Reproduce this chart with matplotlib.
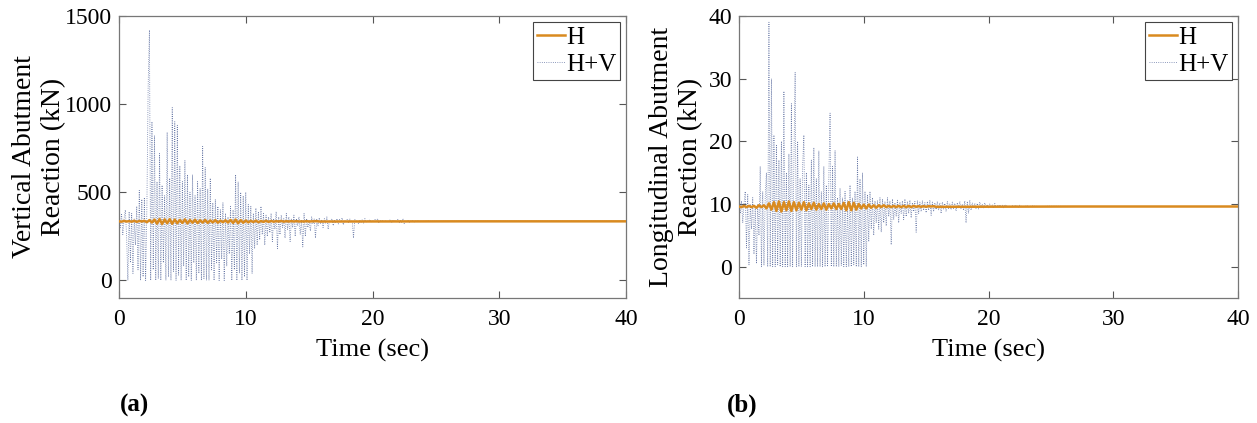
import matplotlib.pyplot as plt
import numpy as np

plt.rcParams['font.family'] = ['Liberation Serif', 'DejaVu Serif']

dt = 0.1     # sample step of the H+V records (s)
dt_h = 0.2   # sample step of the H records (s)

# (a) vertical abutment reaction, kN
hv_vert = [
    340, 300, 380, 260, 350, 400, 250, 0, 390, 100,
    380, 40, 350, 200, 420, 60, 510, 0, 460, 20,
    470, 0, 420, 1100, 1420, 0, 900, 60, 820, 0,
    560, 10, 720, 0, 540, 100, 480, 0, 840, 20,
    580, 0, 980, 50, 900, 0, 880, 30, 650, 0,
    560, 80, 680, 0, 600, 20, 500, 0, 600, 100,
    480, 0, 560, 40, 520, 0, 760, 10, 640, 0,
    520, 0, 580, 60, 440, 0, 460, 100, 420, 0,
    400, 120, 440, 0, 380, 80, 360, 150, 420, 0,
    400, 60, 600, 0, 560, 40, 500, 0, 480, 20,
    500, 0, 430, 150, 420, 40, 380, 180, 410, 200,
    390, 230, 420, 260, 380, 200, 370, 250, 360, 270,
    380, 220, 350, 290, 390, 180, 360, 260, 370, 300,
    350, 240, 380, 290, 360, 220, 350, 300, 370, 250,
    350, 310, 360, 260, 345, 190, 380, 250, 350, 300,
    340, 280, 360, 320, 350, 240, 345, 310, 355, 320,
    345, 300, 350, 325, 360, 290, 340, 330, 350, 310,
    340, 325, 350, 320, 345, 330, 355, 315, 340, 330,
    345, 325, 350, 330, 340, 240, 345, 335, 340, 320,
    340, 330, 345, 325, 350, 330, 340, 335, 345, 330,
    340, 330, 345, 335, 350, 325, 340, 335, 338, 332,
    340, 330, 338, 333, 345, 328, 340, 335, 338, 333,
    345, 325, 340, 330, 350, 322, 338, 333, 340, 330,
    338, 333, 340, 332, 337, 334, 338, 333, 336, 334,
    337, 334, 336, 335, 337, 334, 336, 335, 336, 335,
]
h_vert = [
    335, 333, 337, 334, 336, 333, 338, 332, 337, 334,
    338, 330, 342, 328, 345, 322, 348, 320, 346, 324,
    347, 321, 345, 324, 343, 326, 346, 323, 342, 327,
    344, 325, 341, 328, 343, 326, 340, 329, 342, 327,
    339, 330, 341, 328, 343, 326, 345, 324, 342, 327,
    340, 329, 338, 331, 339, 330, 337, 332, 338, 332,
    337, 333, 336, 334, 337, 333, 336, 334, 336, 334,
    336, 334, 335, 334, 336, 334, 335, 335, 336, 334,
]

# (b) longitudinal abutment reaction, kN
hv_long = [
    9.8, 8.5, 10.5, 7, 10, 12, 3, 11.5, 0.3, 10,
    6, 11, 2, 9.5, 0.5, 10, 5, 16, 0, 12,
    0.2, 11, 15, 0, 39, 0, 30, 0, 21, 0,
    19.5, 0.3, 17, 0, 20, 0, 28, 0, 15, 0,
    18, 0, 26, 0, 17, 31, 0, 20, 0, 14,
    0, 16, 21, 0, 15, 0, 13, 0, 17, 0,
    19, 0, 14, 0, 18.5, 0, 12, 0, 16, 0,
    13, 0, 14, 24.5, 0, 16, 0, 18.5, 0, 11,
    0, 12.5, 0.2, 11, 0, 12, 0, 10.5, 0, 13,
    0, 11, 0.3, 12, 0, 17.5, 0, 14, 0, 15,
    0.3, 12, 0, 11.5, 4, 12, 6, 11, 5, 10.5,
    7, 10.5, 6, 11, 5.5, 10.8, 7, 10.4, 6.5, 11,
    8, 10.5, 3.5, 10.8, 7.5, 10.2, 8, 10.6, 7, 10.3,
    8.5, 10.5, 7.5, 10.8, 8, 10.4, 8.5, 10.6, 7.8, 10.2,
    8.8, 10.4, 5.5, 10.5, 8.5, 10.3, 8.8, 10.5, 9, 10.2,
    8.6, 10.4, 9, 10.6, 8.2, 10.3, 8.8, 10.2, 9.1, 10.4,
    9, 10.2, 8.5, 10.3, 9.2, 10.1, 8.8, 10.4, 9.3, 10,
    9.1, 10.3, 9.3, 10.1, 8.9, 10.2, 9.4, 10.4, 9.2, 10,
    9, 10.5, 7, 10.4, 8.5, 10.6, 9, 10.2, 9.3, 10.1,
    9.3, 10.1, 9.2, 10.3, 9.4, 10, 9.3, 10.2, 9.5, 9.9,
    9.4, 10, 9.5, 9.9, 9.3, 10.1, 9.5, 9.8, 9.6, 9.9,
    9.5, 9.8, 9.4, 9.9, 9.6, 9.8, 9.5, 9.7, 9.6, 9.8,
    9.5, 9.8, 9.6, 9.7, 9.5, 9.8, 9.6, 9.7, 9.6, 9.7,
    9.6, 9.7, 9.5, 9.7, 9.6, 9.7, 9.6, 9.65, 9.6, 9.65,
    9.6, 9.65, 9.6, 9.65, 9.6, 9.65, 9.6, 9.65, 9.6, 9.65,
]
h_long = [
    9.6, 9.5, 9.7, 9.5, 9.7, 9.5, 9.7, 9.4, 9.8, 9.5,
    9.8, 9.3, 10.1, 9.1, 10.3, 8.9, 10.4, 8.8, 10.3, 9.0,
    10.4, 8.9, 10.3, 9.0, 10.2, 9.1, 10.3, 9.0, 10.1, 9.2,
    10.2, 9.1, 10.0, 9.2, 10.1, 9.1, 10.0, 9.3, 10.1, 9.2,
    10.0, 9.2, 10.2, 9.0, 10.3, 9.0, 10.2, 9.1, 10.0, 9.3,
    9.9, 9.3, 9.9, 9.4, 9.8, 9.4, 9.8, 9.5, 9.8, 9.5,
    9.7, 9.5, 9.7, 9.5, 9.7, 9.5, 9.7, 9.5, 9.7, 9.5,
    9.7, 9.55, 9.65, 9.55, 9.65, 9.55, 9.65, 9.6, 9.65, 9.55,
]
# steady tail of both records up to the end of the run
tail_t = [27.0, 31.0, 35.0, 40.0]
tail_vert = [335, 335, 335, 335]
tail_long = [9.6, 9.6, 9.6, 9.6]

panels = [
    ('Vertical Abutment\nReaction (kN)', hv_vert, h_vert, tail_vert,
     (-100, 1500), [0, 500, 1000, 1500], '(a)'),
    ('Longitudinal Abutment\nReaction (kN)', hv_long, h_long, tail_long,
     (-5, 40), [0, 10, 20, 30, 40], '(b)'),
]

c_h = '#D98A1F'
c_hv = '#6878A6'

fig = plt.figure(figsize=(12.57, 4.23), dpi=100)
lefts = [119 / 1257, 739 / 1257]
widths = [507 / 1257, 499 / 1257]
tag_x = [120 / 1257, 727 / 1257]
lab_x = [-0.105, -0.072]
for k, (ylab, hv, h, tail, ylim, yt, tag) in enumerate(panels):
    ax = fig.add_axes([lefts[k], 1 - 298 / 423, widths[k], 282 / 423])
    t_hv = np.concatenate([np.arange(len(hv)) * dt, tail_t])
    t_h = np.concatenate([np.arange(len(h)) * dt_h, tail_t])
    ax.plot(t_hv, list(hv) + tail, ls=':', lw=0.6, color=c_hv, label='H+V', zorder=2)
    ax.plot(t_h, list(h) + tail, ls='-', lw=1.8, color=c_h, label='H', zorder=3)
    ax.set_xlim(0, 40)
    ax.set_ylim(*ylim)
    ax.set_xticks([0, 10, 20, 30, 40])
    ax.set_yticks(yt)
    ax.tick_params(direction='in', top=True, right=True, length=5, width=0.8,
                   labelsize=17, color='#555555')
    ax.tick_params(axis='x', pad=8)
    ax.tick_params(axis='y', pad=5)
    for s in ax.spines.values():
        s.set_color('#777777')
        s.set_linewidth(0.9)
    ax.set_xlabel('Time (sec)', fontsize=19, labelpad=6)
    ax.set_ylabel(ylab, fontsize=20, linespacing=1.2)
    ax.yaxis.set_label_coords(lab_x[k], 0.5)
    hs, ls = ax.get_legend_handles_labels()
    leg = ax.legend(hs[::-1], ls[::-1], loc='upper right', fontsize=18,
                    fancybox=False, edgecolor='#444444', framealpha=1,
                    handlelength=1.1, handletextpad=0.05, borderpad=0.15,
                    labelspacing=0.2, borderaxespad=0.25)
    leg.get_frame().set_linewidth(0.8)
    fig.text(tag_x[k], 1 - 405 / 423, tag, fontsize=18, fontweight='bold',
             va='center', ha='left')

fig.savefig('out.png', dpi=100)
